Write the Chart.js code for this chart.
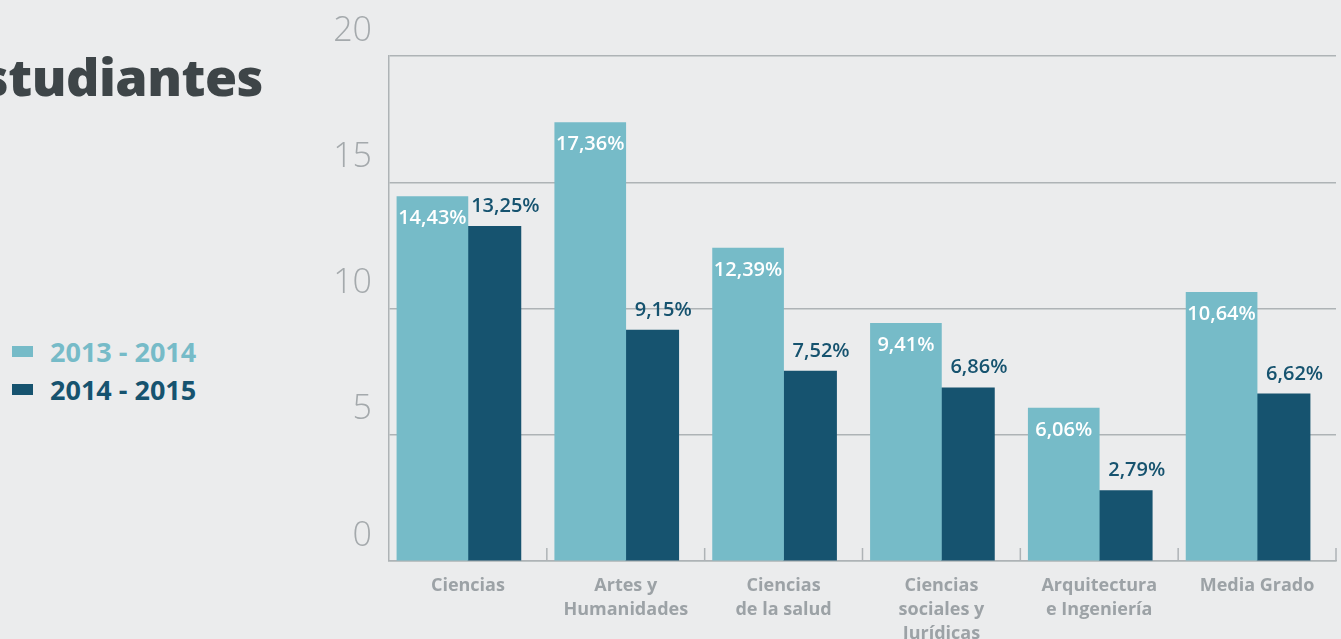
<!DOCTYPE html>
<html>
<head>
<meta charset="utf-8">
<script src="https://cdn.jsdelivr.net/npm/chart.js@4"></script>
<style>
    html, body { margin: 0; padding: 0; background: #ebeced; overflow: hidden; }
    body { width: 1341px; height: 639px; position: relative; font-family: "Open Sans", sans-serif; }
    #title {
        position: absolute; right: 1078px; top: 40px;
        font-size: 52px; font-weight: 800; color: #3e4548; white-space: nowrap;
        letter-spacing: -0.5px;
    }
    #legend { position: absolute; left: 12px; top: 332px; }
    .leg-item { display: flex; align-items: center; height: 38px; font-size: 27px; font-weight: 700; }
    .leg-box { width: 21px; height: 11px; margin-right: 17px; }
    #wrap { position: absolute; left: 0; top: 0; width: 1341px; height: 639px; }
</style>
</head>
<body>
<div id="title">Estudiantes</div>
<div id="legend"></div>
<div id="wrap"><canvas id="chart"></canvas></div>
<script>
document.addEventListener('DOMContentLoaded', () => {
    const categories = [
        'Ciencias',
        ['Artes y', 'Humanidades'],
        ['Ciencias', 'de la salud'],
        ['Ciencias', 'sociales y', 'Jurídicas'],
        ['Arquitectura', 'e Ingeniería'],
        'Media Grado'
    ];
    const seriesNames = ['2013 - 2014', '2014 - 2015'];
    const values2013 = [14.43, 17.36, 12.39, 9.41, 6.06, 10.64];
    const values2014 = [13.25, 9.15, 7.52, 6.86, 2.79, 6.62];
    const yTicks = [0, 5, 10, 15, 20];

    const lightColor = '#76bbc8';
    const darkColor = '#16536f';
    const gridColor = '#aeb3b6';

    // Legend (HTML, left side)
    const legend = document.getElementById('legend');
    [[seriesNames[0], lightColor], [seriesNames[1], darkColor]].forEach(([name, color]) => {
        legend.innerHTML += `
            <div class="leg-item" style="color: ${color};">
                <span class="leg-box" style="background: ${color};"></span>${name}
            </div>`;
    });

    const fmt = v => v.toFixed(2).replace('.', ',') + '%';

    // Value labels: white inside light bars, dark above dark bars
    const valueLabels = {
        id: 'valueLabels',
        afterDatasetsDraw(chart) {
            const ctx = chart.ctx;
            ctx.save();
            ctx.font = '600 20px "Open Sans", sans-serif';
            ctx.textAlign = 'center';
            ctx.textBaseline = 'middle';
            chart.data.datasets.forEach((ds, di) => {
                chart.getDatasetMeta(di).data.forEach((bar, i) => {
                    if (di === 0) {
                        ctx.fillStyle = '#ffffff';
                        ctx.fillText(fmt(ds.data[i]), bar.x, bar.y + 22);
                    } else {
                        ctx.fillStyle = darkColor;
                        ctx.fillText(fmt(ds.data[i]), bar.x + 11, bar.y - 20);
                    }
                });
            });
            ctx.restore();
        }
    };

    // Small tick marks between categories, pointing up into the plot
    const innerTicks = {
        id: 'innerTicks',
        afterDatasetsDraw(chart) {
            const ctx = chart.ctx;
            const x = chart.scales.x;
            const bottom = chart.chartArea.bottom;
            ctx.save();
            ctx.strokeStyle = gridColor;
            ctx.lineWidth = 1.5;
            for (let i = 1; i <= categories.length; i++) {
                const px = i < categories.length
                    ? (x.getPixelForValue(i - 1) + x.getPixelForValue(i)) / 2
                    : chart.chartArea.right;
                ctx.beginPath();
                ctx.moveTo(px, bottom);
                ctx.lineTo(px, bottom - 13);
                ctx.stroke();
            }
            ctx.restore();
        }
    };

    const ctx = document.getElementById('chart').getContext('2d');
    new Chart(ctx, {
        type: 'bar',
        data: {
            labels: categories,
            datasets: [
                { label: seriesNames[0], data: values2013, backgroundColor: lightColor, barThickness: 71 },
                { label: seriesNames[1], data: values2014, backgroundColor: darkColor, barThickness: 53 }
            ]
        },
        options: {
            responsive: true,
            maintainAspectRatio: false,
            animation: false,
            layout: { padding: { top: 56, right: 5, left: 0, bottom: 0 } },
            plugins: {
                legend: { display: false },
                tooltip: { enabled: false }
            },
            scales: {
                y: {
                    min: 0,
                    max: 20,
                    afterFit(scale) { scale.width = 389; },
                    afterBuildTicks(scale) { scale.ticks = yTicks.map(v => ({ value: v })); },
                    border: { display: true, color: gridColor, width: 1.5 },
                    grid: { color: gridColor, lineWidth: 1.5, drawTicks: false },
                    ticks: {
                        color: '#a4a9ac',
                        padding: 17,
                        labelOffset: -25,
                        font: { family: '"Open Sans", sans-serif', size: 34, weight: 300 }
                    }
                },
                x: {
                    afterFit(scale) { scale.height = 78; },
                    border: { display: true, color: gridColor, width: 1.5 },
                    grid: { display: false },
                    ticks: {
                        color: '#9ca2a6',
                        padding: 5,
                        maxRotation: 0,
                        autoSkip: false,
                        font: { family: '"Open Sans", sans-serif', size: 18, weight: 700, lineHeight: 1.33 }
                    }
                }
            }
        },
        plugins: [valueLabels, innerTicks]
    });
});
</script>
</body>
</html>
